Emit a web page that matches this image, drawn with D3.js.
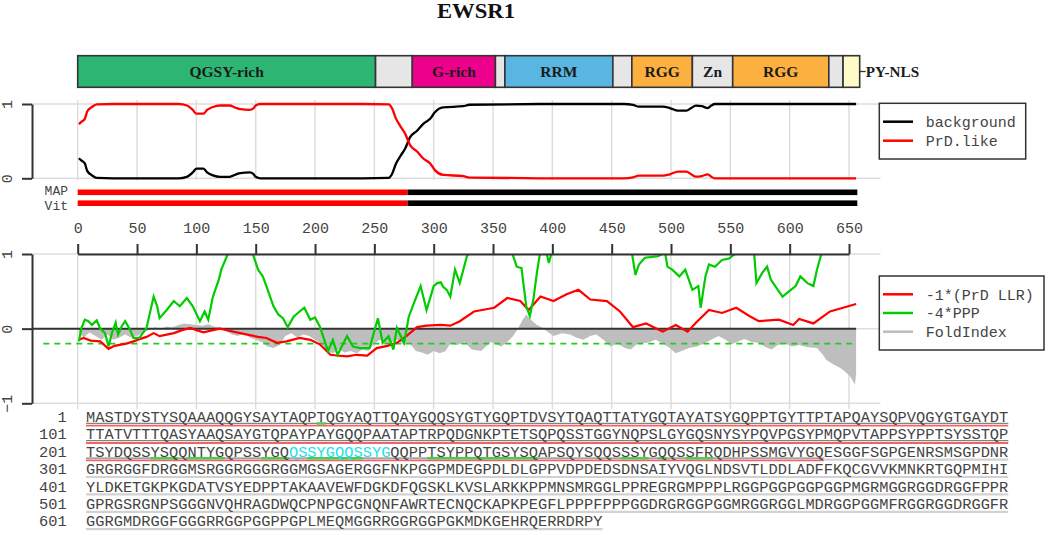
<!DOCTYPE html>
<html>
<head>
<meta charset="utf-8">
<script src="https://cdn.jsdelivr.net/npm/d3@7"></script>
<style>
  body { margin: 0; background: #fff; }
  svg { display: block; }
</style>
</head>
<body>
<svg id="chart" width="1050" height="535"></svg>
<script>
// ---- data ----
const proteinName = 'EWSR1';

const domainStarts = [0, 251, 282, 352, 360, 451, 467, 518, 552, 633, 645];
const domainEnds   = [251, 282, 352, 360, 451, 467, 518, 552, 633, 645, 659];
const domainLabels = ['QGSY-rich', '', 'G-rich', '', 'RRM', '', 'RGG', 'Zn', 'RGG', '', ''];
const domainColors = ['#2db673', '#e6e6e6', '#ec008c', '#e6e6e6', '#58b6e1', '#e6e6e6',
                      '#fbb040', '#e6e6e6', '#fbb040', '#e6e6e6', '#fffbc8'];
const nlsLabel = 'PY-NLS';

// top panel: HMM state probabilities
const hmmPos = [1, 3, 6, 8, 12, 16, 30, 60, 85, 92, 97, 100, 106, 109, 114, 120, 128, 133, 137, 145,
  148, 150, 154, 200, 240, 262, 265, 268, 272, 276, 280, 286, 291, 297, 301, 308, 325, 330, 400, 460,
  468, 473, 493, 499, 506, 513, 517, 521, 526, 531, 534, 537, 600, 656];
const prdLike = [0.73, 0.76, 0.80, 0.90, 0.96, 0.995, 1, 1, 1, 0.98, 0.92, 0.87, 0.87, 0.92, 0.96, 0.98, 0.98, 0.95, 0.93, 0.92,
  0.94, 0.98, 1, 1, 1, 0.995, 0.94, 0.81, 0.70, 0.60, 0.45, 0.36, 0.27, 0.20, 0.11, 0.045, 0.03, 0.01, 0, 0,
  0.013, 0.036, 0.036, 0.054, 0.09, 0.09, 0.054, 0.022, 0.03, 0.054, 0.02, 0, 0, 0];
const background = [0.27, 0.24, 0.20, 0.10, 0.04, 0.005, 0, 0, 0, 0.02, 0.08, 0.13, 0.13, 0.08, 0.04, 0.02, 0.02, 0.05, 0.07, 0.08,
  0.06, 0.02, 0, 0, 0, 0.005, 0.06, 0.19, 0.30, 0.40, 0.55, 0.64, 0.73, 0.80, 0.89, 0.955, 0.97, 0.99, 1, 1,
  0.987, 0.964, 0.964, 0.946, 0.91, 0.91, 0.946, 0.978, 0.97, 0.946, 0.98, 1, 1, 1];

const trackNames = ['MAP', 'Vit'];
const mapStarts = [0, 278];
const mapEnds = [278, 657];
const mapStates = ['PrD', 'background'];

// bottom panel
const llrPos = [1, 5, 11, 19, 26, 31, 41, 47, 52, 58, 64, 69, 75, 81, 88, 95, 100, 106, 114, 120,
  131, 143, 152, 159, 168, 176, 187, 196, 204, 213, 218, 227, 235, 244, 252, 261, 269, 277, 286, 294,
  306, 314, 322, 334, 351, 362, 373, 380, 390, 401, 412, 422, 432, 446, 457, 468, 479, 493, 504, 514,
  521, 532, 543, 555, 566, 574, 591, 603, 608, 620, 634, 645, 656];
const llrVals = [-0.15, -0.125, -0.16, -0.17, -0.27, -0.23, -0.20, -0.17, -0.14, -0.11, -0.06, -0.10, -0.08, -0.06, -0.02, 0.01, -0.02, -0.05, -0.02, 0.0,
  -0.04, -0.08, -0.11, -0.125, -0.19, -0.17, -0.125, -0.15, -0.21, -0.35, -0.36, -0.37, -0.35, -0.36, -0.26, -0.23, -0.19, -0.10, 0.02, 0.04,
  0.05, 0.04, 0.10, 0.23, 0.28, 0.41, 0.37, 0.25, 0.43, 0.37, 0.46, 0.52, 0.39, 0.37, 0.23, 0.02, 0.07, -0.04, 0.05, -0.04,
  0.08, 0.25, 0.21, 0.28, 0.17, 0.10, 0.12, 0.05, 0.13, 0.07, 0.23, 0.28, 0.33];

const pppPos = [1, 3, 6, 9, 12, 16, 19, 23, 26, 29, 32, 34, 37, 40, 44, 47, 52, 58, 64, 67,
  69, 75, 81, 86, 92, 97, 103, 107, 110, 114, 119, 121, 126, 130, 140, 146, 148, 152, 156, 159,
  165, 169, 173, 177, 182, 187, 191, 196, 200, 204, 211, 215, 219, 227, 232, 238, 246, 253, 257, 262,
  266, 269, 275, 279, 284, 289, 294, 300, 303, 306, 308, 311, 314, 318, 322, 328, 332, 350, 366, 370,
  374, 378, 381, 384, 387, 390, 394, 397, 400, 430, 467, 470, 473, 478, 489, 495, 497, 501, 507, 512,
  518, 523, 525, 529, 532, 537, 543, 549, 553, 556, 565, 570, 572, 577, 581, 584, 590, 594, 601, 605,
  609, 615, 620, 623, 627, 640, 656];
const pppVals = [-0.17, 0.0, 0.12, 0.10, 0.05, 0.11, 0.0, -0.06, -0.24, -0.05, 0.08, -0.08, 0.03, 0.10, -0.01, -0.125, -0.125, 0.01, 0.43, 0.30,
  0.14, 0.25, 0.37, 0.30, 0.41, 0.30, 0.10, 0.23, 0.12, 0.43, 0.66, 0.79, 0.98, 1.3, 1.4, 1.2, 0.98, 0.79, 0.70, 0.57,
  0.30, 0.19, 0.14, 0.02, 0.16, 0.23, 0.28, 0.12, 0.15, 0.03, -0.30, -0.15, -0.35, -0.10, -0.24, -0.26, -0.26, 0.14, -0.19, -0.10,
  -0.28, 0.01, -0.19, 0.16, 0.37, 0.57, 0.25, 0.57, 0.61, 0.62, 0.56, 0.52, 0.43, 0.79, 0.61, 0.97, 1.05, 1.3, 1.02, 0.83,
  0.81, 0.30, 0.17, 0.39, 0.75, 1.05, 1.1, 0.88, 1.05, 1.4, 1.02, 0.72, 0.86, 0.95, 0.97, 1.02, 0.83, 0.79, 0.70, 0.79,
  0.52, 0.57, 0.28, 0.70, 0.86, 0.83, 0.92, 0.94, 0.99, 1.02, 1.2, 1.02, 0.61, 0.75, 0.83, 0.66, 0.52, 0.43, 0.52, 0.57,
  0.70, 0.61, 0.57, 0.79, 1.02, 1.3, 1.3];

const foldPos = [1, 5, 10, 15, 20, 25, 30, 35, 40, 45, 50, 55, 60, 65, 70, 75, 80, 85, 90, 95,
  100, 105, 110, 115, 120, 125, 130, 135, 140, 145, 150, 155, 160, 165, 170, 175, 180, 185, 190, 195,
  200, 205, 210, 215, 220, 225, 230, 235, 240, 245, 250, 255, 260, 265, 270, 275, 280, 285, 290, 295,
  300, 305, 310, 314, 320, 326, 332, 340, 348, 357, 362, 367, 371, 375, 378, 382, 387, 391, 395, 401,
  408, 415, 420, 426, 432, 437, 443, 449, 455, 461, 466, 472, 480, 487, 493, 498, 504, 509, 515, 522,
  529, 535, 540, 546, 551, 557, 562, 568, 574, 580, 585, 590, 596, 602, 608, 615, 623, 628, 631, 637,
  643, 647, 651, 654, 655, 656];
const foldVals = [-0.05, -0.12, -0.05, -0.10, -0.15, -0.08, -0.15, -0.12, -0.08, -0.12, -0.10, -0.05, -0.02, 0.02, 0.0, 0.03, 0.02, 0.05, 0.07, 0.06,
  0.05, 0.04, 0.06, 0.03, 0.02, -0.03, -0.08, -0.10, -0.06, -0.12, -0.15, -0.18, -0.24, -0.26, -0.22, -0.10, -0.06, -0.12, -0.08, -0.10,
  -0.15, -0.20, -0.30, -0.33, -0.28, -0.32, -0.30, -0.33, -0.28, -0.30, -0.20, -0.15, -0.20, -0.18, -0.15, -0.22, -0.20, -0.30, -0.32, -0.35,
  -0.30, -0.33, -0.30, -0.20, -0.22, -0.18, -0.28, -0.30, -0.18, -0.24, -0.18, -0.10, 0.0, 0.12, 0.19, 0.12, 0.05, 0.02, -0.03, -0.10,
  -0.06, -0.08, -0.12, -0.15, -0.10, -0.08, -0.15, -0.24, -0.20, -0.26, -0.28, -0.20, -0.19, -0.15, -0.20, -0.25, -0.33, -0.30, -0.26, -0.24,
  -0.19, -0.14, -0.10, -0.15, -0.21, -0.17, -0.14, -0.18, -0.19, -0.25, -0.28, -0.22, -0.20, -0.24, -0.22, -0.25, -0.26, -0.35, -0.42, -0.48,
  -0.53, -0.58, -0.64, -0.72, -0.75, -0.60];
const foldThreshold = -0.2;

const xTicks = [0, 50, 100, 150, 200, 250, 300, 350, 400, 450, 500, 550, 600, 650];

// sequence
const seqLines = [
  'MASTDYSTYSQAAAQQGYSAYTAQPTQGYAQTTQAYGQQSYGTYGQPTDVSYTQAQTTATYGQTAYATSYGQPPTGYTTPTAPQAYSQPVQGYGTGAYDT',
  'TTATVTTTQASYAAQSAYGTQPAYPAYGQQPAATAPTRPQDGNKPTETSQPQSSTGGYNQPSLGYGQSNYSYPQVPGSYPMQPVTAPPSYPPTSYSSTQP',
  'TSYDQSSYSQQNTYGQPSSYGQQSSYGQQSSYGQQPPTSYPPQTGSYSQAPSQYSQQSSSYGQQSSFRQDHPSSMGVYGQESGGFSGPGENRSMSGPDNR',
  'GRGRGGFDRGGMSRGGRGGGRGGMGSAGERGGFNKPGGPMDEGPDLDLGPPVDPDEDSDNSAIYVQGLNDSVTLDDLADFFKQCGVVKMNKRTGQPMIHI',
  'YLDKETGKPKGDATVSYEDPPTAKAAVEWFDGKDFQGSKLKVSLARKKPPMNSMRGGLPPREGRGMPPPLRGGPGGPGGPGGPMGRMGGRGGDRGGFPPR',
  'GPRGSRGNPSGGGNVQHRAGDWQCPNPGCGNQNFAWRTECNQCKAPKPEGFLPPPFPPPGGDRGRGGPGGMRGGRGGLMDRGGPGGMFRGGRGGDRGGFR',
  'GGRGMDRGGFGGGRRGGPGGPPGPLMEQMGGRRGGRGGPGKMDKGEHRQERRDRPY'
];
const prdRegion = [1, 280];
const cyanRegion = [223, 233];
const greenRegions = [[26, 26], [208, 210], [212, 215], [220, 222], [225, 230], [238, 249], [259, 261], [263, 263], [266, 268]];

// ---- drawing ----
const svg = d3.select('#chart');
const mono = 'Liberation Mono, Courier New, monospace';
const serif = 'Liberation Serif, Times New Roman, serif';
const axisCol = '#333';
const textCol = '#444';
const gridCol = '#dddddd';

const x = d3.scaleLinear().domain([0, 650]).range([77.7, 849]);
const regionL = -38.5, regionR = 676.5;
const yTop = d3.scaleLinear().domain([0, 1]).range([178.3, 104]);
const yBot = d3.scaleLinear().domain([-1, 1]).range([403.3, 254]);

// title
svg.append('text')
  .attr('x', 476).attr('y', 18)
  .attr('text-anchor', 'middle')
  .attr('font-family', serif).attr('font-weight', 'bold')
  .attr('font-size', 20).attr('textLength', 78).attr('lengthAdjust', 'spacingAndGlyphs')
  .attr('fill', '#111')
  .text(proteinName);

// domain bar
const barTop = 55.7, barH = 31.6;
const domains = domainStarts.map((s, i) => ({ s, e: domainEnds[i], label: domainLabels[i], color: domainColors[i] }));
const dg = svg.append('g');
dg.selectAll('rect').data(domains).join('rect')
  .attr('x', d => x(d.s)).attr('y', barTop)
  .attr('width', d => x(d.e) - x(d.s)).attr('height', barH)
  .attr('fill', d => d.color)
  .attr('stroke', '#333').attr('stroke-width', 1.6);
dg.selectAll('text').data(domains.filter(d => d.label)).join('text')
  .attr('x', d => (x(d.s) + x(d.e)) / 2).attr('y', barTop + barH / 2)
  .attr('dy', '0.35em').attr('text-anchor', 'middle')
  .attr('font-family', serif).attr('font-weight', 'bold').attr('font-size', 15.5)
  .attr('fill', '#1a1a1a')
  .text(d => d.label);
const nlsEnd = x(domainEnds[domainEnds.length - 1]);
dg.append('line')
  .attr('x1', nlsEnd).attr('x2', nlsEnd + 6)
  .attr('y1', barTop + barH / 2).attr('y2', barTop + barH / 2)
  .attr('stroke', '#333').attr('stroke-width', 1.3);
dg.append('text')
  .attr('x', nlsEnd + 6).attr('y', barTop + barH / 2).attr('dy', '0.35em')
  .attr('font-family', serif).attr('font-weight', 'bold').attr('font-size', 15.2)
  .attr('fill', '#1a1a1a')
  .text(nlsLabel);

// ---- top panel ----
const topG = svg.append('g');
topG.selectAll('line.vg').data(xTicks).join('line')
  .attr('class', 'vg')
  .attr('x1', d => x(d)).attr('x2', d => x(d))
  .attr('y1', yTop(1.055)).attr('y2', yTop(-0.025))
  .attr('stroke', gridCol).attr('stroke-width', 1.5);
topG.selectAll('line.hg').data([0, 1]).join('line')
  .attr('class', 'hg')
  .attr('x1', x(regionL)).attr('x2', x(regionR))
  .attr('y1', d => yTop(d)).attr('y2', d => yTop(d))
  .attr('stroke', gridCol).attr('stroke-width', 1.5);

const hmm = hmmPos.map((p, i) => ({ p, prd: prdLike[i], bg: background[i] }));
const lineBg = d3.line().x(d => x(d.p)).y(d => yTop(d.bg)).curve(d3.curveMonotoneX);
const linePrd = d3.line().x(d => x(d.p)).y(d => yTop(d.prd)).curve(d3.curveMonotoneX);
topG.append('path').datum(hmm).attr('d', lineBg)
  .attr('fill', 'none').attr('stroke', '#000').attr('stroke-width', 2.3);
topG.append('path').datum(hmm).attr('d', linePrd)
  .attr('fill', 'none').attr('stroke', '#ff0000').attr('stroke-width', 2.3);

function styleYAxis(g) {
  g.select('.domain').attr('stroke', axisCol).attr('stroke-width', 2);
  g.selectAll('.tick line').attr('stroke', axisCol).attr('stroke-width', 2);
  g.selectAll('.tick text')
    .attr('x', null).attr('dy', null)
    .attr('text-anchor', 'middle')
    .attr('transform', 'translate(-20,0) rotate(-90)')
    .attr('font-family', mono).attr('font-size', 15).attr('fill', textCol);
}
topG.append('g')
  .attr('transform', `translate(${x(regionL)},0)`)
  .call(d3.axisLeft(yTop).tickValues([0, 1]).tickFormat(d3.format('d')).tickSize(10).tickSizeOuter(0))
  .call(styleYAxis);

// MAP / Vit tracks
const yTrack = d3.scalePoint().domain(trackNames).range([192.3, 203.2]);
const labelNudge = { MAP: -2.2, Vit: 2.2 };
const segs = mapStarts.map((s, i) => ({ s, e: mapEnds[i], state: mapStates[i] }));
trackNames.forEach(name => {
  topG.selectAll(null).data(segs).join('rect')
    .attr('x', d => x(d.s)).attr('width', d => x(d.e) - x(d.s))
    .attr('y', yTrack(name) - 2.8).attr('height', 5.6)
    .attr('fill', d => d.state === 'PrD' ? '#ff0000' : '#000');
  topG.append('text')
    .attr('x', 68).attr('y', yTrack(name) + labelNudge[name]).attr('dy', '0.35em')
    .attr('text-anchor', 'end')
    .attr('font-family', mono).attr('font-size', 13).attr('fill', textCol)
    .text(name);
});

// top legend
const leg1 = svg.append('g');
leg1.append('rect').attr('x', 879.3).attr('y', 103.3).attr('width', 146.4).attr('height', 55.7)
  .attr('fill', '#fff').attr('stroke', axisCol).attr('stroke-width', 1.5);
[['background', '#000'], ['PrD.like', '#ff0000']].forEach(([lab, col], i) => {
  const yy = 121.7 + i * 19;
  leg1.append('line').attr('x1', 883).attr('x2', 913).attr('y1', yy).attr('y2', yy)
    .attr('stroke', col).attr('stroke-width', 2.5);
  leg1.append('text').attr('x', 925.7).attr('y', yy).attr('dy', '0.35em')
    .attr('font-family', mono).attr('font-size', 15).attr('fill', textCol).text(lab);
});

// ---- bottom panel ----
const botG = svg.append('g');
botG.selectAll('line.vg').data(xTicks).join('line')
  .attr('class', 'vg')
  .attr('x1', d => x(d)).attr('x2', d => x(d))
  .attr('y1', yBot(1)).attr('y2', yBot(-1.08))
  .attr('stroke', gridCol).attr('stroke-width', 1.5);
botG.selectAll('line.hg').data([-1, 0, 1]).join('line')
  .attr('class', 'hg')
  .attr('x1', x(regionL)).attr('x2', x(regionR))
  .attr('y1', d => yBot(d)).attr('y2', d => yBot(d))
  .attr('stroke', gridCol).attr('stroke-width', 1.5);

svg.append('clipPath').attr('id', 'botClip').append('rect')
  .attr('x', x(regionL)).attr('y', yBot(1))
  .attr('width', x(regionR) - x(regionL)).attr('height', yBot(-1.08) - yBot(1));
const plotG = botG.append('g').attr('clip-path', 'url(#botClip)');

const fold = foldPos.map((p, i) => ({ p, v: foldVals[i] }));
plotG.append('path').datum(fold)
  .attr('d', d3.area().x(d => x(d.p)).y0(yBot(0)).y1(d => yBot(d.v)))
  .attr('fill', '#bebebe');

plotG.append('line')
  .attr('x1', x(regionL)).attr('x2', x(656))
  .attr('y1', yBot(0)).attr('y2', yBot(0))
  .attr('stroke', axisCol).attr('stroke-width', 2);
plotG.append('line')
  .attr('x1', x(-29)).attr('x2', x(656))
  .attr('y1', yBot(foldThreshold)).attr('y2', yBot(foldThreshold))
  .attr('stroke', '#22cc22').attr('stroke-width', 1.6).attr('stroke-dasharray', '6,5');

const llr = llrPos.map((p, i) => ({ p, v: llrVals[i] }));
const ppp = pppPos.map((p, i) => ({ p, v: pppVals[i] }));
const lineBot = d3.line().x(d => x(d.p)).y(d => yBot(d.v));
plotG.append('path').datum(llr).attr('d', lineBot)
  .attr('fill', 'none').attr('stroke', '#ff0000').attr('stroke-width', 2.2);
plotG.append('path').datum(ppp).attr('d', lineBot)
  .attr('fill', 'none').attr('stroke', '#00cc00').attr('stroke-width', 2.2);

botG.append('g')
  .attr('transform', `translate(${x(regionL)},0)`)
  .call(d3.axisLeft(yBot).tickValues([-1, 0, 1]).tickFormat(d3.format('d')).tickSize(10).tickSizeOuter(0))
  .call(styleYAxis);

// shared position axis
const xAxisG = svg.append('g')
  .attr('transform', `translate(0,${yBot(1)})`)
  .call(d3.axisTop(x).tickValues(xTicks).tickSize(10).tickSizeOuter(0).tickPadding(11));
xAxisG.select('.domain').attr('stroke', axisCol).attr('stroke-width', 2);
xAxisG.selectAll('.tick line').attr('stroke', axisCol).attr('stroke-width', 2);
xAxisG.selectAll('.tick text').attr('font-family', mono).attr('font-size', 15).attr('fill', textCol);

// bottom legend
const leg2 = svg.append('g');
leg2.append('rect').attr('x', 879.3).attr('y', 276).attr('width', 164.7).attr('height', 74)
  .attr('fill', '#fff').attr('stroke', axisCol).attr('stroke-width', 1.5);
[['-1*(PrD LLR)', '#ff0000'], ['-4*PPP', '#00cc00'], ['FoldIndex', '#bebebe']].forEach(([lab, col], i) => {
  const yy = 294.3 + i * 18.7;
  leg2.append('line').attr('x1', 883).attr('x2', 913).attr('y1', yy).attr('y2', yy)
    .attr('stroke', col).attr('stroke-width', 2.5);
  leg2.append('text').attr('x', 925.7).attr('y', yy).attr('dy', '0.35em')
    .attr('font-family', mono).attr('font-size', 15).attr('fill', textCol).text(lab);
});

// ---- sequence ----
const seqX = d3.scaleLinear().domain([0, 100]).range([86, 1008.3]);
const seqY = d3.scaleLinear().domain([0, 1]).range([422, 439.4]); // baselines
const seqG = svg.append('g');

// split a residue range into per-line pieces
function pieces(a, b) {
  const out = [];
  for (let ln = 0; ln < seqLines.length; ln++) {
    const lo = ln * 100 + 1, hi = ln * 100 + seqLines[ln].length;
    const s = Math.max(a, lo), e = Math.min(b, hi);
    if (s <= e) out.push({ ln, c0: s - lo, c1: e - lo + 1 });
  }
  return out;
}
const total = seqLines.reduce((n, l) => n + l.length, 0);

// grey band outside the PrD region, red band + thin underline inside
seqG.selectAll(null).data(pieces(prdRegion[1] + 1, total)).join('line')
  .attr('x1', d => seqX(d.c0)).attr('x2', d => seqX(d.c1))
  .attr('y1', d => seqY(d.ln) + 2.8).attr('y2', d => seqY(d.ln) + 2.8)
  .attr('stroke', '#d2d2d2').attr('stroke-width', 2.2);
seqG.selectAll(null).data(pieces(prdRegion[0], prdRegion[1])).join('line')
  .attr('x1', d => seqX(d.c0)).attr('x2', d => seqX(d.c1))
  .attr('y1', d => seqY(d.ln) + 1.3).attr('y2', d => seqY(d.ln) + 1.3)
  .attr('stroke', '#666').attr('stroke-width', 1);
seqG.selectAll(null).data(pieces(prdRegion[0], prdRegion[1])).join('line')
  .attr('x1', d => seqX(d.c0)).attr('x2', d => seqX(d.c1))
  .attr('y1', d => seqY(d.ln) + 3.6).attr('y2', d => seqY(d.ln) + 3.6)
  .attr('stroke', '#f26464').attr('stroke-width', 1.8);
seqG.selectAll(null).data(greenRegions.flatMap(([a, b]) => pieces(a, b))).join('line')
  .attr('x1', d => seqX(d.c0)).attr('x2', d => seqX(d.c1))
  .attr('y1', d => seqY(d.ln) + 1.5).attr('y2', d => seqY(d.ln) + 1.5)
  .attr('stroke', '#4ccc4c').attr('stroke-width', 2.4);

// line numbers
seqG.selectAll('text.num').data(seqLines).join('text')
  .attr('class', 'num')
  .attr('x', 66.7).attr('y', (d, i) => seqY(i))
  .attr('text-anchor', 'end')
  .attr('font-family', mono).attr('font-size', 15.37).attr('fill', textCol)
  .text((d, i) => i * 100 + 1);

// residues
const residues = seqLines.flatMap((line, ln) => line.split('').map((aa, c) => ({ aa, ln, c, pos: ln * 100 + c + 1 })));
seqG.selectAll('text.aa').data(residues).join('text')
  .attr('class', 'aa')
  .attr('x', d => seqX(d.c)).attr('y', d => seqY(d.ln))
  .attr('font-family', mono).attr('font-size', 15.37)
  .attr('fill', d => d.pos >= cyanRegion[0] && d.pos <= cyanRegion[1] ? '#22e0ee' : textCol)
  .text(d => d.aa);
</script>
</body>
</html>
